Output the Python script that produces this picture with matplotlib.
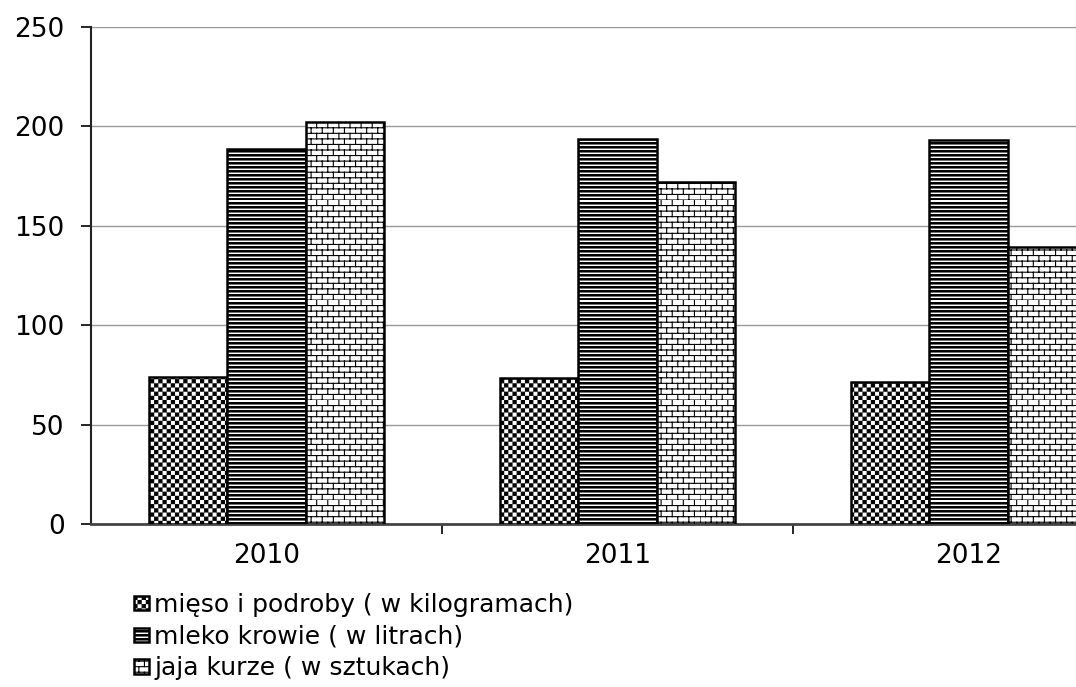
import warnings
import numpy as np
import matplotlib
matplotlib.use('Agg')
import matplotlib.pyplot as plt
from matplotlib import hatch as mhatch
from matplotlib.path import Path

warnings.filterwarnings('ignore')

years = ['2010', '2011', '2012']
meat = [73.7, 73.3, 71.5]
milk = [188.7, 193.6, 193.1]
eggs = [202.4, 171.9, 139.4]
labels = ['mięso i podroby ( w kilogramach)',
          'mleko krowie ( w litrach)',
          'jaja kurze ( w sztukach)']


# custom hatches: 'c' checkerboard, 's' thick stripes, 'b' bricks
class CheckerHatch(mhatch.HatchPatternBase):
    def __init__(self, hatch, density):
        self.n = 24 if 'c' in hatch else 0
        self.num_vertices = (self.n * self.n // 2) * 5

    def set_vertices_and_codes(self, vertices, codes):
        s = 1.0 / self.n
        d = 0.12 * s
        k = 0
        for i in range(self.n):
            for j in range(self.n):
                if (i + j) % 2:
                    continue
                x0, y0 = j * s + d, i * s + d
                x1, y1 = (j + 1) * s - d, (i + 1) * s - d
                vertices[k:k + 5] = [(x0, y0), (x1, y0), (x1, y1), (x0, y1), (x0, y0)]
                codes[k:k + 5] = [Path.MOVETO, Path.LINETO, Path.LINETO,
                                  Path.LINETO, Path.CLOSEPOLY]
                k += 5


class StripeHatch(mhatch.HatchPatternBase):
    def __init__(self, hatch, density):
        self.n = 25 if 's' in hatch else 0
        self.num_vertices = self.n * 5

    def set_vertices_and_codes(self, vertices, codes):
        s = 1.0 / self.n
        h = 0.014
        for i in range(self.n):
            y0 = i * s
            vertices[i * 5:i * 5 + 5] = [(0, y0), (1, y0), (1, y0 + h), (0, y0 + h), (0, y0)]
            codes[i * 5:i * 5 + 5] = [Path.MOVETO, Path.LINETO, Path.LINETO,
                                      Path.LINETO, Path.CLOSEPOLY]


class BrickHatch(mhatch.HatchPatternBase):
    def __init__(self, hatch, density):
        self.rows = 18 if 'b' in hatch else 0
        self.cols = self.rows // 2
        self.num_vertices = self.rows * 2 + self.rows * self.cols * 2

    def set_vertices_and_codes(self, vertices, codes):
        r = 1.0 / self.rows
        c = 1.0 / self.cols
        k = 0
        for i in range(self.rows):
            vertices[k:k + 2] = [(0, i * r), (1, i * r)]
            codes[k:k + 2] = [Path.MOVETO, Path.LINETO]
            k += 2
            for j in range(self.cols):
                x = j * c + (0.5 * c if i % 2 else 0)
                vertices[k:k + 2] = [(x, i * r), (x, (i + 1) * r)]
                codes[k:k + 2] = [Path.MOVETO, Path.LINETO]
                k += 2


mhatch._hatch_types.extend([CheckerHatch, StripeHatch, BrickHatch])

plt.rcParams['font.family'] = ['DejaVu Sans']
plt.rcParams['hatch.linewidth'] = 0.8
plt.rcParams['hatch.color'] = 'black'

fig = plt.figure(figsize=(10.76, 6.87), dpi=100)
ax = fig.add_axes([91 / 1076, 1 - 524 / 687, 1053 / 1076, 497 / 687])

x = np.arange(len(years))
w = 0.224
series = [meat, milk, eggs]
hatches = ['c', 's', 'b']
for k, (vals, ht, lab) in enumerate(zip(series, hatches, labels)):
    ax.bar(x + (k - 1) * w, vals, w, color='white', edgecolor='black',
           linewidth=1.8, hatch=ht, label=lab, zorder=3)

ax.set_xlim(-0.5, 2.5)
ax.set_ylim(0, 250)
ax.set_yticks(range(0, 251, 50))
ax.yaxis.grid(True, color='#999999', linewidth=1.0, zorder=0)

ax.set_xticks([0.5, 1.5])
ax.set_xticklabels([])
ax.set_xticks(x, minor=True)
ax.set_xticklabels(years, minor=True)
ax.tick_params(axis='x', which='major', direction='out', length=7, width=1.2)
ax.tick_params(axis='x', which='minor', length=0, pad=14, labelsize=19)
ax.tick_params(axis='y', direction='out', length=7, width=1.2, pad=12, labelsize=19)

for side in ['top', 'right']:
    ax.spines[side].set_visible(False)
ax.spines['left'].set_color('#222222')
ax.spines['left'].set_linewidth(1.5)
ax.spines['bottom'].set_color('#444444')
ax.spines['bottom'].set_linewidth(2)

fig.legend(loc='upper left', bbox_to_anchor=(134 / 1076, 1 - 593 / 687),
           frameon=False, fontsize=18, handlelength=0.6, handleheight=0.52,
           handletextpad=0.2, labelspacing=0.31, borderaxespad=0, borderpad=0)

fig.savefig('out.png', dpi=100)
